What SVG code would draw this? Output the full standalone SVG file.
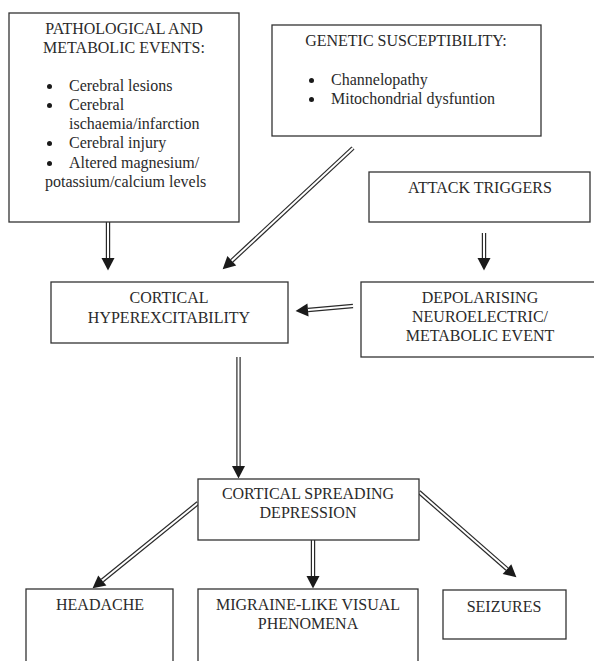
<svg xmlns="http://www.w3.org/2000/svg" xmlns:xlink="http://www.w3.org/1999/xlink" width="594" height="661" viewBox="0 0 594 661">
<style>
  .box { fill: #ffffff; stroke: #333333; stroke-width: 1.3; }
  text { font-family: "Liberation Serif", "Times New Roman", serif; font-size: 16px; fill: #2a2a2a; }
  .c { text-anchor: middle; }
  .dot { fill: #1a1a1a; }
  .outer { fill: none; stroke: #2a2a2a; stroke-width: 4.4; marker-end: url(#head); }
  .inner { fill: none; stroke: #ffffff; stroke-width: 2; }
</style>
<defs>
  <marker id="head" markerUnits="userSpaceOnUse" viewBox="0 -7 13 14" markerWidth="13" markerHeight="14" refX="0" refY="0" orient="auto" overflow="visible">
    <path d="M0,-6.5 L12.5,0 L0,6.5 Z" fill="#1a1a1a"/>
  </marker>
  <path id="a1" d="M108,222 L108,258"/>
  <path id="a2" d="M353,148 L231.8,260.8"/>
  <path id="a3" d="M484,233 L484,258"/>
  <path id="a4" d="M353,306 L308,310"/>
  <path id="a5" d="M238.5,357 L238.5,466"/>
  <path id="a6" d="M198,503 L102.3,580.5"/>
  <path id="a7" d="M313,540 L313,576"/>
  <path id="a8" d="M419,492 L507,569.1"/>
</defs>
<rect width="594" height="661" fill="#ffffff"/>

<g id="connectors">
  <use xlink:href="#a1" class="outer"/><use xlink:href="#a1" class="inner"/>
  <use xlink:href="#a2" class="outer"/><use xlink:href="#a2" class="inner"/>
  <use xlink:href="#a3" class="outer"/><use xlink:href="#a3" class="inner"/>
  <use xlink:href="#a4" class="outer"/><use xlink:href="#a4" class="inner"/>
  <use xlink:href="#a5" class="outer"/><use xlink:href="#a5" class="inner"/>
  <use xlink:href="#a6" class="outer"/><use xlink:href="#a6" class="inner"/>
  <use xlink:href="#a7" class="outer"/><use xlink:href="#a7" class="inner"/>
  <use xlink:href="#a8" class="outer"/><use xlink:href="#a8" class="inner"/>
</g>

<g id="pathological">
  <rect class="box" x="9" y="13" width="230" height="209"/>
  <text class="c" x="124" y="34">PATHOLOGICAL AND</text>
  <text class="c" x="124" y="53">METABOLIC EVENTS:</text>
  <circle class="dot" cx="49.5" cy="86.5" r="2.5"/><text x="69" y="91">Cerebral lesions</text>
  <circle class="dot" cx="49.5" cy="105.5" r="2.5"/><text x="69" y="110">Cerebral</text>
  <text x="69" y="129">ischaemia/infarction</text>
  <circle class="dot" cx="49.5" cy="143.5" r="2.5"/><text x="69" y="148">Cerebral injury</text>
  <circle class="dot" cx="49.5" cy="163.5" r="2.5"/><text x="69" y="168">Altered magnesium/</text>
  <text x="45" y="187">potassium/calcium levels</text>
</g>

<g id="genetic">
  <rect class="box" x="272" y="25" width="269" height="111"/>
  <text class="c" x="406" y="46">GENETIC SUSCEPTIBILITY:</text>
  <circle class="dot" cx="311.5" cy="80.5" r="2.5"/><text x="331" y="85">Channelopathy</text>
  <circle class="dot" cx="311.5" cy="99.5" r="2.5"/><text x="331" y="104">Mitochondrial dysfuntion</text>
</g>

<g id="triggers">
  <rect class="box" x="369" y="172" width="221" height="50"/>
  <text class="c" x="480" y="193">ATTACK TRIGGERS</text>
</g>

<g id="cortical">
  <rect class="box" x="51" y="282" width="237" height="61"/>
  <text class="c" x="169" y="303">CORTICAL</text>
  <text class="c" x="169" y="323">HYPEREXCITABILITY</text>
</g>

<g id="depolarising">
  <rect class="box" x="361" y="282" width="240" height="75"/>
  <text class="c" x="480" y="303">DEPOLARISING</text>
  <text class="c" x="480" y="322">NEUROELECTRIC/</text>
  <text class="c" x="480" y="341">METABOLIC EVENT</text>
</g>

<g id="csd">
  <rect class="box" x="198" y="479" width="221" height="61"/>
  <text class="c" x="308" y="499">CORTICAL SPREADING</text>
  <text class="c" x="308" y="518">DEPRESSION</text>
</g>

<g id="headache">
  <rect class="box" x="26" y="589" width="147" height="90"/>
  <text class="c" x="100" y="610">HEADACHE</text>
</g>

<g id="migraine">
  <rect class="box" x="198" y="589" width="220" height="90"/>
  <text class="c" x="308" y="610">MIGRAINE-LIKE VISUAL</text>
  <text class="c" x="308" y="629">PHENOMENA</text>
</g>

<g id="seizures">
  <rect class="box" x="443" y="590" width="123" height="49"/>
  <text class="c" x="504" y="612">SEIZURES</text>
</g>
</svg>
